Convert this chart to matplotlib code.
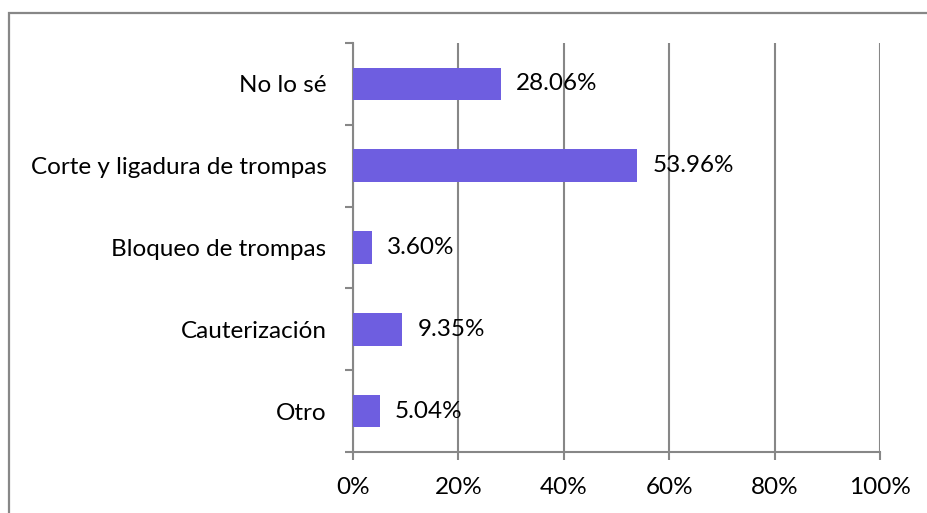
import matplotlib
matplotlib.use("Agg")
import matplotlib.pyplot as plt
from matplotlib.patches import Rectangle

# data (top to bottom as shown)
categories = ["No lo sé", "Corte y ligadura de trompas", "Bloqueo de trompas",
              "Cauterización", "Otro"]
values = [28.06, 53.96, 3.60, 9.35, 5.04]
xticks = [0, 20, 40, 60, 80, 100]

plt.rcParams['font.family'] = ['Lato', 'DejaVu Sans']
grey = "#878787"
bar_color = "#6E5EE0"
fs = 17.5

fig = plt.figure(figsize=(9.27, 5.13), dpi=100)
ax = fig.add_axes([353/927, 1 - 452/513, (880 - 353)/927, (452 - 43)/513])

# outer chart border (runs off the right and bottom edges)
fig.patches.append(Rectangle((9/927, -0.2), 1.2, 1.2 - 13/513,
                             transform=fig.transFigure, fill=False,
                             edgecolor=grey, lw=1.6))

ypos = list(range(len(categories)))[::-1]
ax.barh(ypos, values, height=0.4, color=bar_color, zorder=3)

for y, v in zip(ypos, values):
    ax.annotate("{:.2f}%".format(v), (v, y), xytext=(11, 0),
                textcoords="offset points", va="center", ha="left",
                fontsize=fs, zorder=4)

ax.set_xlim(0, 100)
ax.set_ylim(-0.5, len(categories) - 0.5)
ax.set_xticks(xticks)
ax.set_xticklabels(["{}%".format(t) for t in xticks])
ax.set_yticks(ypos)
ax.set_yticklabels(categories)
ax.set_yticks([i - 0.5 for i in range(len(categories) + 1)], minor=True)

ax.grid(axis="x", color=grey, lw=1.5, zorder=1)
for s in ["top", "right"]:
    ax.spines[s].set_visible(False)
for s in ["left", "bottom"]:
    ax.spines[s].set_color(grey)
    ax.spines[s].set_linewidth(1.5)

ax.tick_params(axis="y", which="major", length=0, pad=19, labelsize=fs)
ax.tick_params(axis="y", which="minor", length=6, width=1.5, color=grey)
ax.tick_params(axis="x", length=6, width=1.5, color=grey, pad=12, labelsize=fs)

fig.savefig("out.png", dpi=100)
